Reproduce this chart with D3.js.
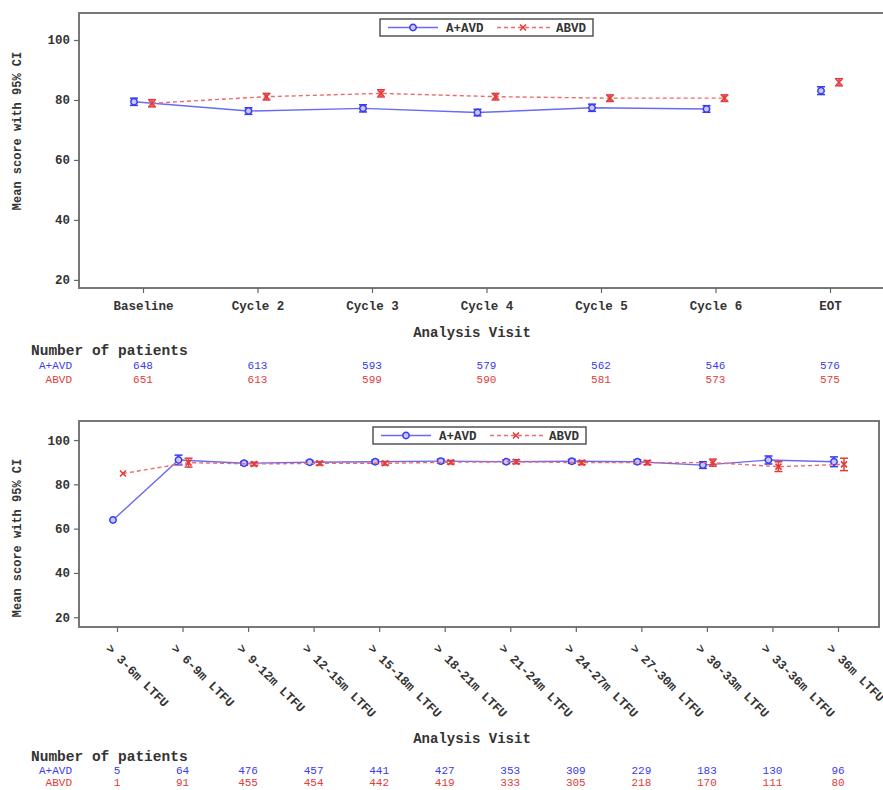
<!DOCTYPE html>
<html>
<head>
<meta charset="utf-8">
<script src="https://cdn.jsdelivr.net/npm/d3@7"></script>
<style>
  body { margin: 0; background: #fff; }
  text { font-family: "Liberation Mono", "DejaVu Sans Mono", monospace; }
  .tick text { font-weight: bold; fill: #333; font-size: 12.5px; }
  .tick line { stroke: #666; stroke-width: 1.2; }
</style>
</head>
<body>
<script>
// ---- data: panel 1 (treatment cycles) ----
var visits1 = ["Baseline", "Cycle 2", "Cycle 3", "Cycle 4", "Cycle 5", "Cycle 6", "EOT"];
var aMean1 = [79.4, 76.3, 77.2, 75.8, 77.4, 77.0, 83.1];
var aLo1   = [78.2, 75.2, 76.0, 74.7, 76.2, 75.9, 81.8];
var aHi1   = [80.6, 77.4, 78.4, 76.9, 78.6, 78.1, 84.4];
var bMean1 = [78.9, 81.1, 82.2, 81.1, 80.6, 80.6, 85.9];
var bLo1   = [77.7, 80.0, 81.0, 80.0, 79.5, 79.5, 84.7];
var bHi1   = [80.1, 82.2, 83.4, 82.2, 81.7, 81.7, 87.1];
var nA1 = [648, 613, 593, 579, 562, 546, 576];
var nB1 = [651, 613, 599, 590, 581, 573, 575];
var unjoined1 = ["EOT"];   // EOT is plotted but not joined to the cycles

// ---- data: panel 2 (long-term follow-up) ----
var visits2 = ["> 3-6m LTFU", "> 6-9m LTFU", "> 9-12m LTFU", "> 12-15m LTFU", "> 15-18m LTFU",
               "> 18-21m LTFU", "> 21-24m LTFU", "> 24-27m LTFU", "> 27-30m LTFU", "> 30-33m LTFU",
               "> 33-36m LTFU", "> 36m LTFU"];
var aMean2 = [63.9, 91.0, 89.5, 90.0, 90.2, 90.5, 90.2, 90.4, 90.2, 88.7, 91.0, 90.2];
var aLo2   = [63.9, 88.8, 88.7, 89.2, 89.4, 89.7, 89.4, 89.5, 89.3, 87.2, 89.2, 88.0];
var aHi2   = [63.9, 93.2, 90.3, 90.8, 91.0, 91.3, 91.0, 91.3, 91.1, 90.2, 92.8, 92.4];
var bMean2 = [84.9, 89.8, 89.2, 89.5, 89.5, 90.0, 90.2, 89.8, 89.8, 89.8, 88.0, 89.0];
var bLo2   = [84.9, 87.8, 88.4, 88.7, 88.7, 89.2, 89.3, 88.9, 88.9, 88.2, 85.8, 86.2];
var bHi2   = [84.9, 91.8, 90.0, 90.3, 90.3, 90.8, 91.1, 90.7, 90.7, 91.4, 90.2, 91.8];
var nA2 = [5, 64, 476, 457, 441, 427, 353, 309, 229, 183, 130, 96];
var nB2 = [1, 91, 455, 454, 442, 419, 333, 305, 218, 170, 111, 80];
var unjoined2 = [];

var yTicks = [20, 40, 60, 80, 100];
var seriesNames = ["A+AVD", "ABVD"];

var blue = "#3a3af0", blueLine = "#6a6af5";
var red = "#e23b3b", redLine = "#ee6a6a";

var W = 883, H = 790;
var svg = d3.select("body").append("svg").attr("width", W).attr("height", H);

function drawPanel(cfg) {
    var g = svg.append("g");
    var x = d3.scalePoint().domain(cfg.visits)
        .range([cfg.left + cfg.padL, cfg.right - cfg.padR]);
    var y = d3.scaleLinear().domain(cfg.yDomain).range([cfg.bottom, cfg.top]);

    // frame
    g.append("rect")
        .attr("x", cfg.left).attr("y", cfg.top)
        .attr("width", cfg.right - cfg.left).attr("height", cfg.bottom - cfg.top)
        .attr("fill", "none").attr("stroke", "#777").attr("stroke-width", 2);

    // y axis
    var ya = g.append("g").attr("transform", "translate(" + cfg.left + ",0)")
        .call(d3.axisLeft(y).tickValues(yTicks).tickSize(5).tickPadding(4));
    ya.select(".domain").remove();

    // x axis
    var xa = g.append("g").attr("transform", "translate(0," + cfg.bottom + ")")
        .call(d3.axisBottom(x).tickSize(5).tickPadding(8));
    xa.select(".domain").remove();
    if (cfg.rotate) {
        xa.selectAll(".tick text")
            .attr("text-anchor", "start")
            .attr("dy", 0)
            .attr("font-size", "13px")
            .attr("transform", "translate(-3,13) rotate(45)");
    }

    // y title
    g.append("text")
        .attr("transform", "translate(" + 21 + "," + cfg.yTitleY + ") rotate(-90)")
        .attr("text-anchor", "middle")
        .attr("font-size", "12px").attr("font-weight", "bold").attr("fill", "#333")
        .text("Mean score with 95% CI");

    // x title
    g.append("text")
        .attr("x", 472).attr("y", cfg.xTitleY)
        .attr("text-anchor", "middle")
        .attr("font-size", "14px").attr("font-weight", "bold").attr("fill", "#333")
        .text("Analysis Visit");

    var series = [
        { mean: cfg.aMean, lo: cfg.aLo, hi: cfg.aHi, col: blue, lcol: blueLine, dx: cfg.offA, dash: null, mark: "circle" },
        { mean: cfg.bMean, lo: cfg.bLo, hi: cfg.bHi, col: red, lcol: redLine, dx: cfg.offB, dash: "4,3", mark: "x" }
    ];

    series.forEach(function(s) {
        var pts = cfg.visits.map(function(v, i) {
            return { v: v, x: x(v) + s.dx, m: s.mean[i], lo: s.lo[i], hi: s.hi[i] };
        });
        var joined = pts.filter(function(p) { return cfg.unjoined.indexOf(p.v) < 0; });
        g.append("path")
            .datum(joined)
            .attr("fill", "none")
            .attr("stroke", s.lcol)
            .attr("stroke-width", 1.4)
            .attr("stroke-dasharray", s.dash)
            .attr("d", d3.line().x(function(p) { return p.x; }).y(function(p) { return y(p.m); }));

        // error bars
        var eb = g.append("g").selectAll("g").data(pts.filter(function(p) { return p.hi > p.lo; }))
            .enter().append("g").attr("stroke", s.col).attr("stroke-width", 1.5);
        eb.append("line").attr("x1", function(p) { return p.x; }).attr("x2", function(p) { return p.x; })
            .attr("y1", function(p) { return y(p.lo); }).attr("y2", function(p) { return y(p.hi); });
        eb.append("line").attr("x1", function(p) { return p.x - 4; }).attr("x2", function(p) { return p.x + 4; })
            .attr("y1", function(p) { return y(p.lo); }).attr("y2", function(p) { return y(p.lo); });
        eb.append("line").attr("x1", function(p) { return p.x - 4; }).attr("x2", function(p) { return p.x + 4; })
            .attr("y1", function(p) { return y(p.hi); }).attr("y2", function(p) { return y(p.hi); });

        // markers
        var mk = g.append("g").selectAll("g").data(pts).enter().append("g")
            .attr("transform", function(p) { return "translate(" + p.x + "," + y(p.m) + ")"; });
        drawMarker(mk, s.mark, s.col);
    });

    // legend
    var lg = g.append("g").attr("transform", "translate(" + cfg.legX + "," + cfg.legY + ")");
    lg.append("rect").attr("width", 213).attr("height", 17)
        .attr("fill", "#fff").attr("stroke", "#555").attr("stroke-width", 1.5);
    lg.append("line").attr("x1", 8).attr("x2", 58).attr("y1", 8.5).attr("y2", 8.5)
        .attr("stroke", blueLine).attr("stroke-width", 1.4);
    drawMarker(lg.append("g").attr("transform", "translate(33,8.5)"), "circle", blue);
    lg.append("text").attr("x", 66).attr("y", 13).attr("font-size", "12.5px").attr("font-weight", "bold")
        .attr("fill", "#333").text(seriesNames[0]);
    lg.append("line").attr("x1", 117).attr("x2", 170).attr("y1", 8.5).attr("y2", 8.5)
        .attr("stroke", redLine).attr("stroke-width", 1.4).attr("stroke-dasharray", "4,3");
    drawMarker(lg.append("g").attr("transform", "translate(143,8.5)"), "x", red);
    lg.append("text").attr("x", 176).attr("y", 13).attr("font-size", "12.5px").attr("font-weight", "bold")
        .attr("fill", "#333").text(seriesNames[1]);

    // number of patients table
    g.append("text").attr("x", 31).attr("y", cfg.tableY)
        .attr("font-size", "14.5px").attr("font-weight", "bold").attr("fill", "#333")
        .text("Number of patients");
    [[cfg.nA, blue, seriesNames[0]], [cfg.nB, red, seriesNames[1]]].forEach(function(row, r) {
        var ry = cfg.tableY + cfg.rowGap + r * cfg.rowGap;
        g.append("text").attr("x", 72).attr("y", ry).attr("text-anchor", "end")
            .attr("font-size", "11px").attr("fill", row[1]).text(row[2]);
        g.selectAll(null).data(row[0]).enter().append("text")
            .attr("x", function(d, i) { return x(cfg.visits[i]); })
            .attr("y", ry).attr("text-anchor", "middle")
            .attr("font-size", "11px").attr("fill", row[1])
            .text(function(d) { return d; });
    });
}

function drawMarker(sel, type, col) {
    if (type === "circle") {
        sel.append("circle").attr("r", 3.2).attr("fill", "#c8c8ff")
            .attr("stroke", col).attr("stroke-width", 1.5);
    } else {
        sel.append("path").attr("d", "M-3,-3L3,3M-3,3L3,-3")
            .attr("stroke", col).attr("stroke-width", 1.6);
    }
}

drawPanel({
    visits: visits1, aMean: aMean1, aLo: aLo1, aHi: aHi1, bMean: bMean1, bLo: bLo1, bHi: bHi1,
    nA: nA1, nB: nB1, unjoined: unjoined1,
    left: 79, right: 894, top: 13, bottom: 288, padL: 64, padR: 64,
    yDomain: [17.3, 109], offA: -9, offB: 9, rotate: false,
    yTitleY: 131, xTitleY: 337, legX: 380, legY: 19, tableY: 355, rowGap: 14
});

drawPanel({
    visits: visits2, aMean: aMean2, aLo: aLo2, aHi: aHi2, bMean: bMean2, bLo: bLo2, bHi: bHi2,
    nA: nA2, nB: nB2, unjoined: unjoined2,
    left: 79, right: 879, top: 421, bottom: 627, padL: 38, padR: 41,
    yDomain: [15.6, 108.6], offA: -4, offB: 6, rotate: true,
    yTitleY: 538, xTitleY: 743, legX: 373, legY: 427, tableY: 761, rowGap: 12.5
});
</script>
</body>
</html>
